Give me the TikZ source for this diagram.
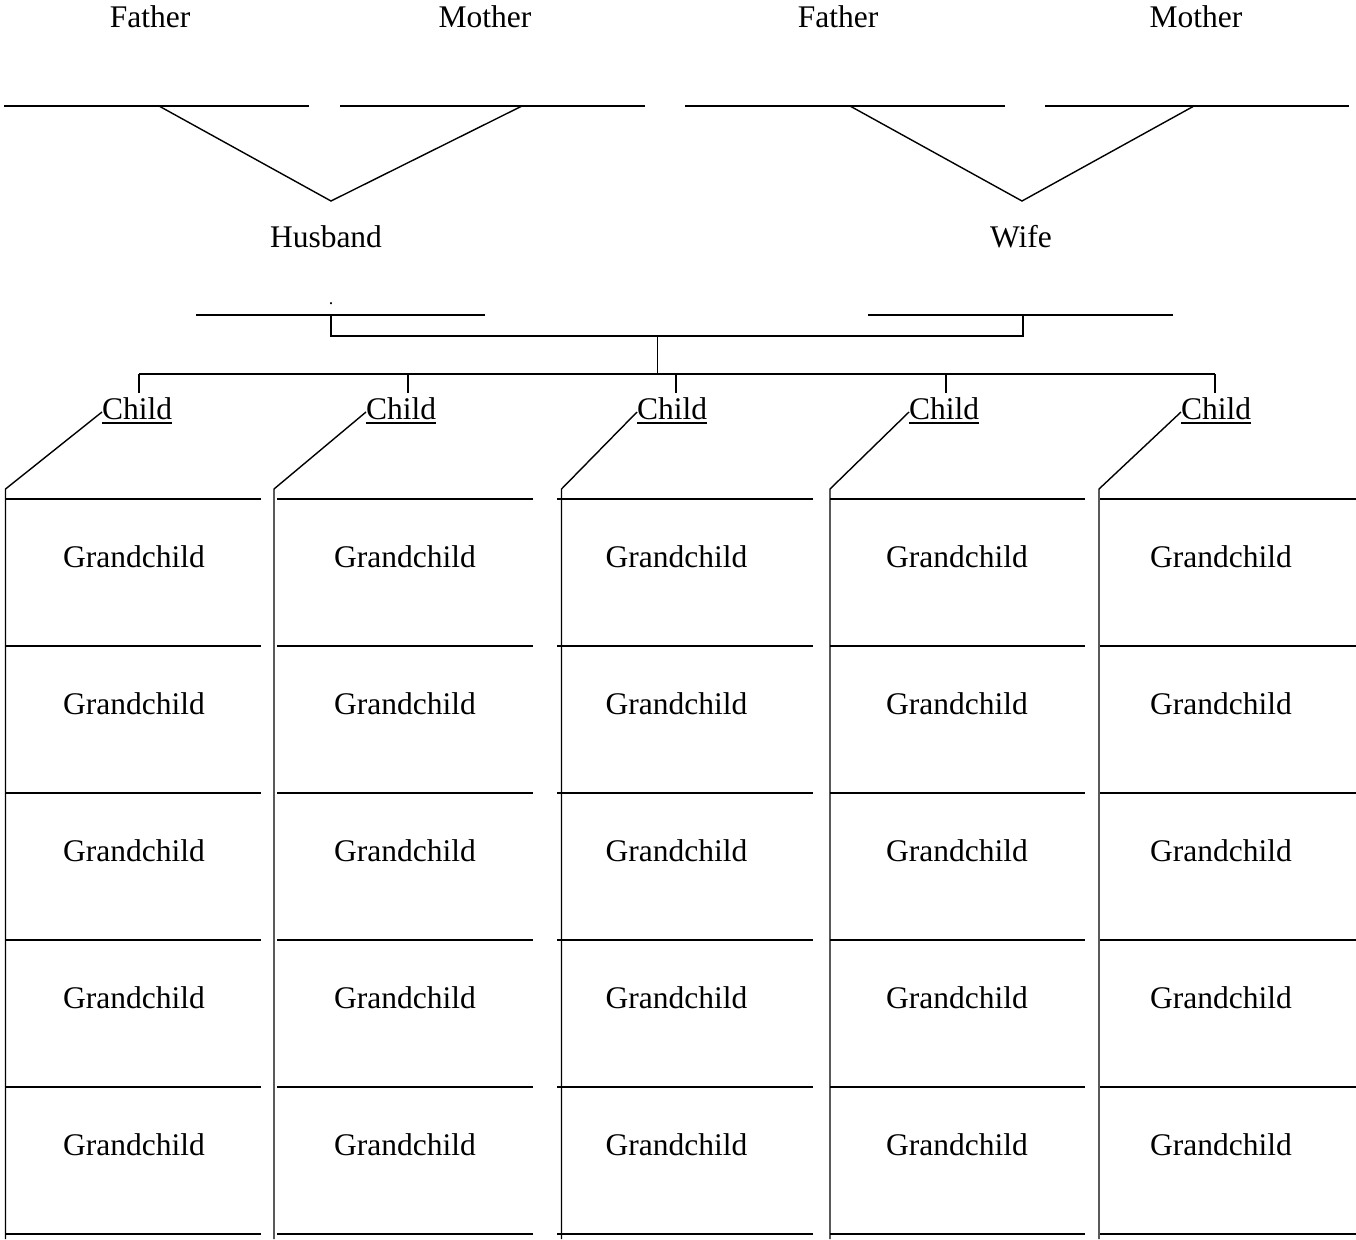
\documentclass[tikz,border=0pt]{standalone}
\usepackage{fontspec}
\setmainfont{Liberation Serif}
\begin{document}
\begin{tikzpicture}[x=1pt,y=-1pt,
  ln/.style={line width=1.4pt},
  lbl/.style={anchor=base, inner sep=0pt, font=\fontsize{31.5}{36}\selectfont}]
\useasboundingbox (0,0) rectangle (1356,1239);
% ---- grandparents
\node[lbl] (f1) at (150,28) {Father};
\node[lbl] (m1) at (485,28) {Mother};
\node[lbl] (f2) at (838,28) {Father};
\node[lbl] (m2) at (1196,28) {Mother};
\coordinate (f1a) at (4,106);   \coordinate (f1b) at (309,106);
\coordinate (m1a) at (340,106); \coordinate (m1b) at (645,106);
\coordinate (f2a) at (685,106); \coordinate (f2b) at (1005,106);
\coordinate (m2a) at (1045,106);\coordinate (m2b) at (1349,106);
\draw[ln] (f1a) -- (f1b);
\draw[ln] (m1a) -- (m1b);
\draw[ln] (f2a) -- (f2b);
\draw[ln] (m2a) -- (m2b);
\coordinate (v1l) at (159,106); \coordinate (v1x) at (331,201); \coordinate (v1r) at (522,106);
\coordinate (v2l) at (850,106); \coordinate (v2x) at (1022,201); \coordinate (v2r) at (1194,106);
\draw[ln] (v1l) -- (v1x) -- (v1r);
\draw[ln] (v2l) -- (v2x) -- (v2r);
% ---- couple
\node[lbl] (hus) at (326,247) {Husband};
\node[lbl] (wif) at (1021,247) {Wife};
\node[anchor=base, inner sep=0pt, font=\fontsize{18}{20}\selectfont] (dot) at (331,304) {.};
\coordinate (hla) at (196,315); \coordinate (hlb) at (485,315);
\coordinate (wla) at (868,315); \coordinate (wlb) at (1173,315);
\draw[ln] (hla) -- (hlb);
\draw[ln] (wla) -- (wlb);
\coordinate (hj) at (331,315); \coordinate (wj) at (1023,315);
\coordinate (hjb) at (331,336); \coordinate (wjb) at (1023,336);
\draw[ln] (hj) -- (hjb) -- (wjb) -- (wj);
\coordinate (mid) at (657.5,336); \coordinate (midb) at (657.5,374);
\draw[ln] (mid) -- (midb);
\coordinate (bl) at (139,374); \coordinate (br) at (1215,374);
\draw[ln] (bl) -- (br);
% ---- children and grandchildren
\foreach \i/\tx/\cx/\vx/\ga/\gb/\gc in {1/139/102/5.5/5/261/134,
                                    2/408/366/274/277/533/405,
                                    3/676/637/561.5/557/813/676.5,
                                    4/946/909/830/830/1085/957,
                                    5/1215/1181/1099/1100/1356/1221}{
  \coordinate (t\i a) at (\tx,374);
  \coordinate (t\i b) at (\tx,393);
  \draw[ln] (t\i a) -- (t\i b);
  \node[lbl, anchor=base west] (ch\i) at (\cx,419) {Child};
  \draw[line width=1.5pt] ([yshift=-4pt]ch\i.base west) -- ([yshift=-4pt]ch\i.base east);
  \coordinate (d\i) at (\vx,489);
  \coordinate (e\i) at (\vx,1239);
  \draw[ln] ([yshift=7pt]ch\i.base west) -- (d\i) -- (e\i);
  \foreach \k in {0,...,5}{
    \pgfmathsetmacro{\yy}{499+147*\k}
    \coordinate (r\i\k a) at (\ga,\yy);
    \coordinate (r\i\k b) at (\gb,\yy);
    \draw[ln] (r\i\k a) -- (r\i\k b);
  }
  \foreach \k in {0,...,4}{
    \pgfmathsetmacro{\yy}{499+147*\k+68}
    \node[lbl] (g\i\k) at (\gc,\yy) {Grandchild};
  }
}
\end{tikzpicture}
\end{document}
